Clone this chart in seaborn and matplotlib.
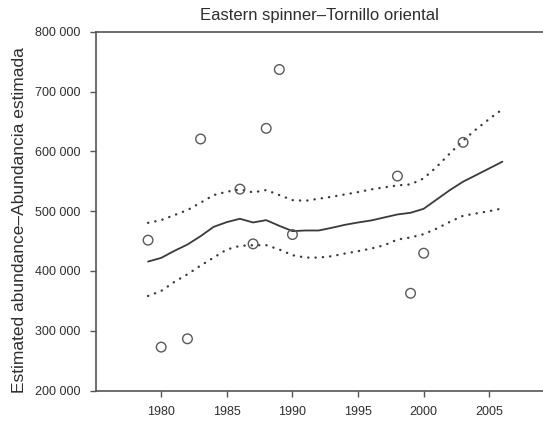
import pandas as pd
import matplotlib
matplotlib.use("Agg")
import matplotlib.pyplot as plt
import seaborn as sns

# survey estimates (points)
obs_years = [1979, 1980, 1982, 1983, 1986, 1987, 1988, 1989, 1990, 1998, 1999, 2000, 2003]
obs_abund = [451400, 272600, 286500, 620600, 536800, 445200, 638400, 736800, 460800,
             558600, 362600, 429600, 615000]

# smoothed trend and confidence limits
trend_years = list(range(1979, 2007))
trend_mid = [415600, 421800, 433500, 444100, 458100, 473700, 481600, 487200, 481000, 484900,
             475400, 466500, 467600, 467600, 472100, 477100, 481000, 484400, 489400, 494400,
             497200, 503900, 519600, 535200, 549200, 560300, 571500, 582700]
trend_upper = [480400, 484900, 493300, 501700, 514000, 526800, 532400, 536300, 531300, 535200,
               526800, 518400, 517300, 520700, 524000, 527900, 531800, 536300, 539700, 543000,
               544700, 554700, 574300, 596600, 617900, 636900, 654200, 670400]
trend_lower = [358100, 366500, 381600, 394400, 408900, 422300, 435800, 441900, 443000, 443000,
               435800, 426300, 422300, 422300, 424600, 429100, 433000, 437400, 443000, 452500,
               455900, 461500, 470900, 482100, 492200, 496100, 500000, 504500]

y_ticks = [200000, 300000, 400000, 500000, 600000, 700000, 800000]
y_ticklabels = ["200 000", "300 000", "400 000", "500 000", "600 000", "700 000", "800 000"]
x_ticks = [1980, 1985, 1990, 1995, 2000, 2005]

obs = pd.DataFrame({"year": obs_years, "abund": obs_abund})
trend = pd.DataFrame({"year": trend_years, "mid": trend_mid,
                      "upper": trend_upper, "lower": trend_lower})

sns.set_style("ticks")
plt.rcParams["font.family"] = ["Liberation Sans", "DejaVu Sans"]

text_col = "#2e2e2e"
line_col = "#3a3a3a"

fig = plt.figure(figsize=(5.43, 4.21), dpi=100)
ax = fig.add_axes([0.176, 0.0724, 0.846, 0.8523])

dots = (0, (0.1, 3.0))
sns.lineplot(data=trend, x="year", y="mid", ax=ax, color=line_col, linewidth=1.3)
sns.lineplot(data=trend, x="year", y="upper", ax=ax, color=line_col, linewidth=1.7,
             linestyle=dots, dash_capstyle="round")
sns.lineplot(data=trend, x="year", y="lower", ax=ax, color=line_col, linewidth=1.7,
             linestyle=dots, dash_capstyle="round")
sns.scatterplot(data=obs, x="year", y="abund", ax=ax, marker="o", s=48,
                facecolor="none", edgecolor="#5a5a5a", linewidth=1.0, zorder=3)

ax.set_xlim(1975, 2010)
ax.set_ylim(200000, 800000)
ax.set_xticks(x_ticks)
ax.set_yticks(y_ticks)
ax.set_yticklabels(y_ticklabels)
ax.tick_params(axis="both", which="major", bottom=True, left=True, direction="out",
               length=4, width=1.0, color="#555555",
               labelsize=9, labelcolor=text_col, pad=7)
for s in ax.spines.values():
    s.set_color("#555555")
    s.set_linewidth(1.2)
    s.set_visible(True)

ax.set_xlabel("")
ax.set_ylabel("Estimated abundance\u2013Abundancia estimada", fontsize=12.5,
              color=text_col)
ax.yaxis.set_label_coords(-0.149, 0.475)
fig.text(0.589, 0.963, "Eastern spinner\u2013Tornillo oriental", fontsize=12,
         color=text_col, ha="center", va="center")

fig.savefig("out.png", dpi=100)
